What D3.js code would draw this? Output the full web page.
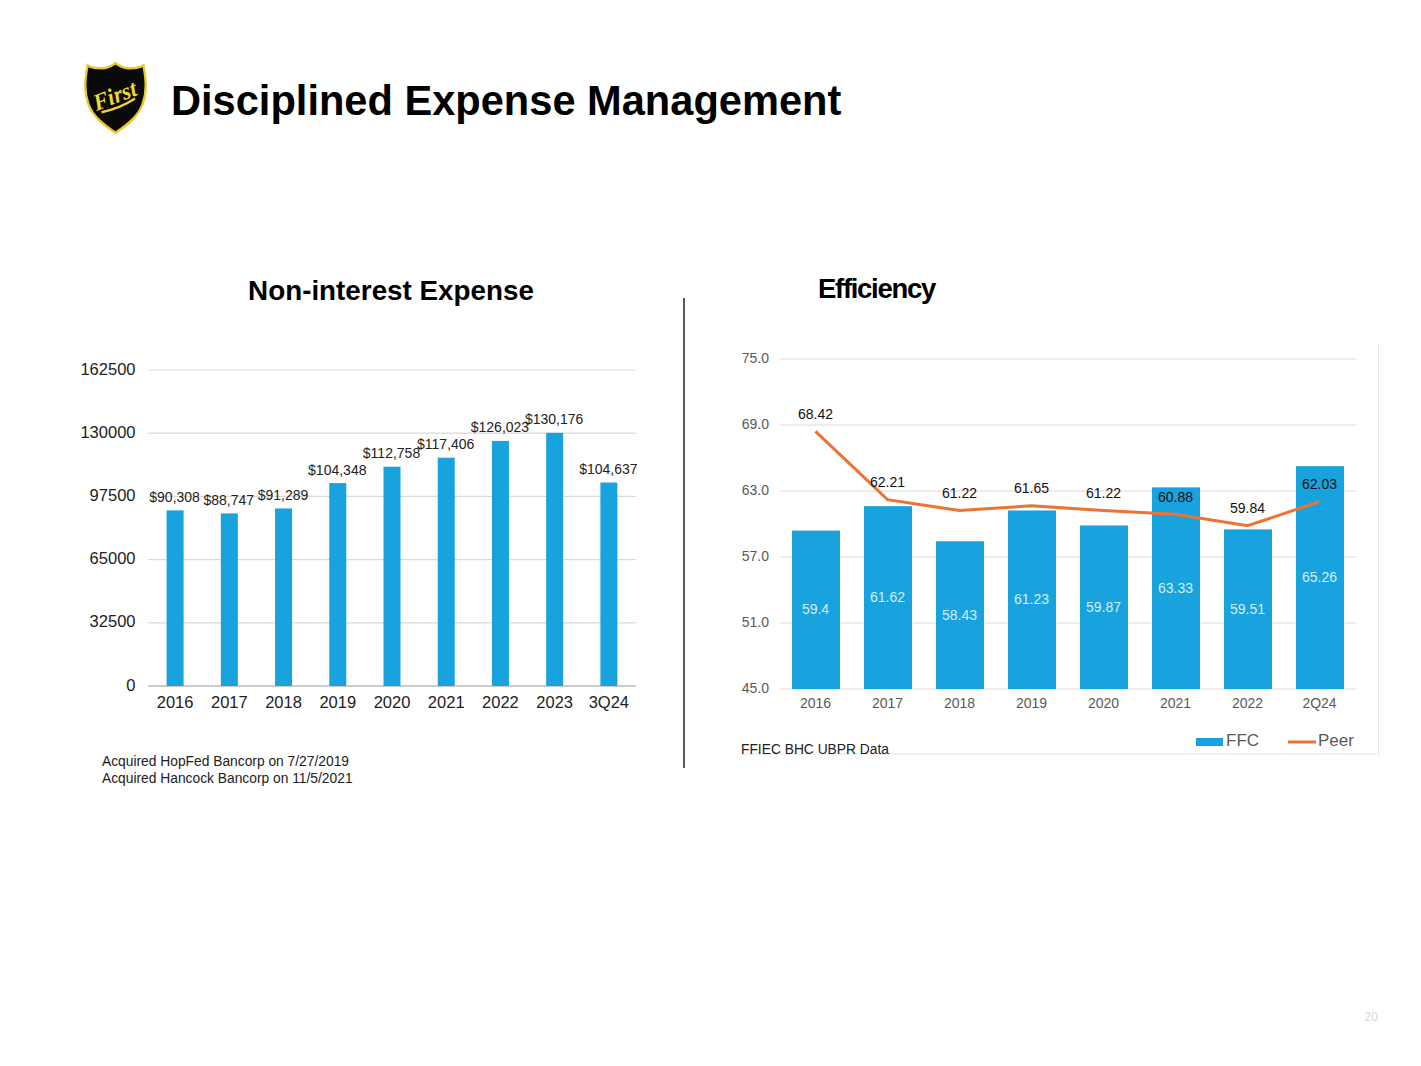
<!DOCTYPE html>
<html><head><meta charset="utf-8">
<script src="https://cdn.jsdelivr.net/npm/d3@7/dist/d3.min.js"></script>
<style>html,body{margin:0;padding:0;background:#fff}svg{display:block}text{font-family:"Liberation Sans",Arial,sans-serif}</style>
</head><body><svg id="c" width="1421" height="1066"></svg>
<script>
const expenseCategories=["2016","2017","2018","2019","2020","2021","2022","2023","3Q24"];
const expenseValues=[90308,88747,91289,104348,112758,117406,126023,130176,104637];
const expenseTicks=[0,32500,65000,97500,130000,162500];
const effCategories=["2016","2017","2018","2019","2020","2021","2022","2Q24"];
const ffcValues=[59.4,61.62,58.43,61.23,59.87,63.33,59.51,65.26];
const peerValues=[68.42,62.21,61.22,61.65,61.22,60.88,59.84,62.03];
const effTicks=[45,51,57,63,69,75];
const notes=["Acquired HopFed Bancorp on 7/27/2019","Acquired Hancock Bancorp on 11/5/2021"];

const BLUE="#18a3de",ORANGE="#ed7233",GRID="#d9d9d9";
const svg=d3.select("#c");
function txt(x,y,s,size,o={}){
  return svg.append("text").attr("x",x).attr("y",y).attr("font-size",size)
    .attr("text-anchor",o.anchor||"start").attr("dominant-baseline","central")
    .attr("font-weight",o.weight||"normal").attr("fill",o.fill||"#000")
    .attr("letter-spacing",o.ls||0).style("font-family",o.font||null).text(s);
}
// Logo
const logo=svg.append("g").attr("transform","translate(115.5,97.5) scale(0.93,0.98)");
const shield="M0,-35 C6,-31 12,-29 18,-30 C23,-30 27,-31 30,-33 C33,-18 34,-6 29,7 C24,20 11,29 0,36 C-11,29 -24,20 -29,7 C-34,-6 -33,-18 -30,-33 C-27,-31 -23,-30 -18,-30 C-12,-29 -6,-31 0,-35 Z";
logo.append("path").attr("d",shield).attr("fill","#0a0a0a").attr("stroke","#e8c92a").attr("stroke-width",2.5);
logo.append("text").attr("x",0).attr("y",-2).attr("text-anchor","middle").attr("dominant-baseline","central")
  .attr("font-size",24).attr("font-weight","bold").attr("font-style","italic").attr("fill","#f3d730")
  .attr("transform","rotate(-20)").style("font-family","'Liberation Serif',serif").text("First");
logo.append("path").attr("d","M-15,15 Q5,11 21,1").attr("fill","none").attr("stroke","#f3d730").attr("stroke-width",2.5);

txt(171,100,"Disciplined Expense Management",41.6,{weight:"bold"});
txt(391,290,"Non-interest Expense",27.8,{weight:"bold",anchor:"middle"});
txt(818,288,"Efficiency",27.5,{weight:"bold",ls:-1.3});

// Divider & frame
svg.append("line").attr("x1",684).attr("x2",684).attr("y1",298).attr("y2",768).attr("stroke","#222").attr("stroke-width",1.5);
svg.append("path").attr("d","M740,754 H1378.5 V345").attr("fill","none").attr("stroke","#e3e3e3").attr("stroke-width",1.2);

// Left chart
const x1=d3.scaleBand().domain(expenseCategories).range([148,636]);
const y1=d3.scaleLinear().domain([0,162500]).range([686,370]);
const g1=svg.append("g");
g1.selectAll("line.g").data(expenseTicks).join("line").attr("x1",148).attr("x2",636)
  .attr("y1",d=>y1(d)).attr("y2",d=>y1(d)).attr("stroke",d=>d===0?"#999":GRID).attr("stroke-width",1.2);
g1.selectAll("rect").data(expenseValues).join("rect")
  .attr("x",(d,i)=>x1(expenseCategories[i])+x1.bandwidth()/2-8.5).attr("width",17)
  .attr("y",d=>y1(d)).attr("height",d=>686-y1(d)).attr("fill",BLUE);
g1.selectAll("text.v").data(expenseValues).join("text").attr("class","v")
  .attr("x",(d,i)=>x1(expenseCategories[i])+x1.bandwidth()/2-0.5).attr("y",d=>y1(d)-13.5)
  .attr("text-anchor","middle").attr("dominant-baseline","central").attr("font-size",14).attr("fill","#222")
  .text(d=>"$"+d3.format(",")(d));
g1.selectAll("text.t").data(expenseTicks).join("text").attr("class","t")
  .attr("x",135.5).attr("y",d=>y1(d)-1.5).attr("text-anchor","end").attr("dominant-baseline","central")
  .attr("font-size",16.5).attr("fill","#222").text(d=>d);
g1.selectAll("text.c").data(expenseCategories).join("text").attr("class","c")
  .attr("x",d=>x1(d)+x1.bandwidth()/2).attr("y",702).attr("text-anchor","middle").attr("dominant-baseline","central")
  .attr("font-size",16.5).attr("fill","#222").text(d=>d);
notes.forEach((n,i)=>txt(102,761+i*17.5,n,13.8,{fill:"#222"}));

// Right chart
const x2=d3.scaleBand().domain(effCategories).range([780,1356]);
const y2=d3.scaleLinear().domain([45,75]).range([689,359]);
const g2=svg.append("g");
g2.selectAll("line.g").data(effTicks).join("line").attr("x1",780).attr("x2",1356)
  .attr("y1",d=>y2(d)).attr("y2",d=>y2(d)).attr("stroke",GRID).attr("stroke-width",1.2);
const cx=c=>x2(c)+x2.bandwidth()/2;
g2.selectAll("rect").data(ffcValues).join("rect")
  .attr("x",(d,i)=>cx(effCategories[i])-24).attr("width",48)
  .attr("y",d=>y2(d)).attr("height",d=>689-y2(d)).attr("fill",BLUE);
g2.append("path").datum(peerValues).attr("fill","none").attr("stroke",ORANGE).attr("stroke-width",3)
  .attr("d",d3.line().x((d,i)=>cx(effCategories[i])-0.5).y(d=>y2(d)));
g2.selectAll("text.f").data(ffcValues).join("text").attr("class","f")
  .attr("x",(d,i)=>cx(effCategories[i])-0.5).attr("y",d=>(y2(d)+689)/2-0.5).attr("text-anchor","middle")
  .attr("dominant-baseline","central").attr("font-size",14).attr("fill","#d5eef9").text(d=>d);
g2.selectAll("text.p").data(peerValues).join("text").attr("class","p")
  .attr("x",(d,i)=>cx(effCategories[i])-0.5).attr("y",d=>y2(d)-17.5).attr("text-anchor","middle")
  .attr("dominant-baseline","central").attr("font-size",14).attr("fill","#111").text(d=>d);
g2.selectAll("text.t").data(effTicks).join("text").attr("class","t")
  .attr("x",769).attr("y",d=>y2(d)-1).attr("text-anchor","end").attr("dominant-baseline","central")
  .attr("font-size",14).attr("fill","#595959").text(d=>d3.format(".1f")(d));
g2.selectAll("text.c").data(effCategories).join("text").attr("class","c")
  .attr("x",d=>cx(d)-0.5).attr("y",703).attr("text-anchor","middle").attr("dominant-baseline","central")
  .attr("font-size",14).attr("fill","#595959").text(d=>d);
txt(741,749,"FFIEC BHC UBPR Data",13.8,{fill:"#222"});

// Legend
svg.append("rect").attr("x",1196).attr("y",738).attr("width",27).attr("height",8).attr("fill",BLUE);
txt(1226,740,"FFC",17,{fill:"#595959"});
svg.append("line").attr("x1",1288).attr("x2",1316).attr("y1",742).attr("y2",742).attr("stroke",ORANGE).attr("stroke-width",3);
txt(1318,740,"Peer",17,{fill:"#595959"});
txt(1371,1016,"20",12,{anchor:"middle",fill:"#d5d5d5",font:"'Open Sans',sans-serif"});
</script></body></html>
